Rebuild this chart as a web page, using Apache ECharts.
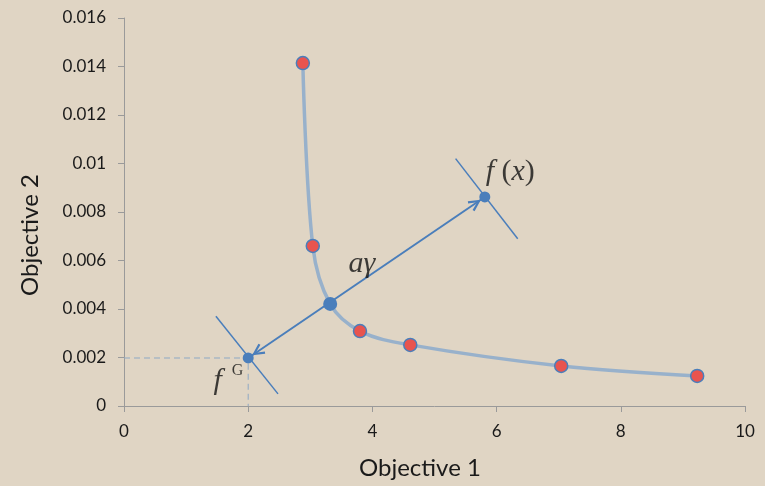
<!DOCTYPE html>
<html><head><meta charset="utf-8">
<script src="https://cdn.jsdelivr.net/npm/echarts@6/dist/echarts.min.js"></script>
<style>html,body{margin:0;padding:0;background:#e0d5c4;}#c{width:765px;height:486px;}</style>
</head><body><div id="c"></div>
<script>
// Pareto front points (red)
const frontX = [2.88, 3.04, 3.80, 4.61, 7.04, 9.23];
const frontY = [0.01414, 0.0066, 0.00309, 0.00252, 0.00165, 0.00124];
// curve through the front (includes the intersection point)
const curveX = [2.88, 3.04, 3.32, 3.80, 4.61, 7.04, 9.23];
const curveY = [0.01414, 0.0066, 0.00421, 0.00309, 0.00252, 0.00165, 0.00124];
// special points: intersection, f(x), f^G
const specialX = [3.32, 5.81, 2.0];
const specialY = [0.00421, 0.00862, 0.00198];
// crossing segments at f(x) and f^G
const crossFx = [[5.34, 0.0102], [6.34, 0.0069]];
const crossFG = [[1.48, 0.00370], [2.48, 0.00050]];
// text annotations: f(x), aγ, f, G
const noteText = ['f(x)', 'aγ', 'f', 'G'];
const noteX = [6.22, 3.83, 1.51, 1.83];
const noteY = [0.00965, 0.00586, 0.00103, 0.00146];
const xTicks = [0, 2, 4, 6, 8, 10];
const yTicks = [0, 0.002, 0.004, 0.006, 0.008, 0.01, 0.012, 0.014, 0.016];

const blue = '#4a7ebb';
// open chevron, tip a little short of the symbol centre (invisible anchor extends the box)
const chev = 'path://M0,10 L5,0 L10,10 L8.3,10.9 L5,3.8 L1.7,10.9 Z M5,-19 L5.01,-19 L5,-18.99 Z';
const chevSize = [12, 35];
const serif = 'Liberation Serif';
const sans = 'Lato';

const chart = echarts.init(document.getElementById('c'));
chart.setOption({
  backgroundColor: '#e0d5c4',
  animation: false,
  grid: {left: 124, right: 20, top: 18, bottom: 80},
  graphic: [
    {type: 'text', left: 359, top: 456, style: {text: 'Objective 1', font: '24px Lato', fill: '#1a1a1a'}},
    {type: 'text', x: 18, y: 296, rotation: Math.PI / 2,
      style: {text: 'Objective 2', font: '24px Lato', fill: '#1a1a1a'}}
  ],
  xAxis: {
    type: 'value', min: xTicks[0], max: xTicks[xTicks.length-1], interval: 2,
    axisLine: {lineStyle: {color: '#9a9a9a', width: 1}},
    axisTick: {show: true, length: 6, lineStyle: {color: '#9a9a9a'}},
    axisLabel: {fontFamily: sans, fontSize: 17, color: '#1a1a1a', margin: 17},
    splitLine: {show: false}
  },
  yAxis: {
    type: 'value', min: yTicks[0], max: yTicks[yTicks.length-1], interval: 0.002,
    axisLine: {show: true, lineStyle: {color: '#9a9a9a', width: 1}},
    axisTick: {show: true, length: 6, lineStyle: {color: '#9a9a9a'}},
    axisLabel: {fontFamily: sans, fontSize: 17, color: '#1a1a1a', margin: 18,
      formatter: v => String(+v.toFixed(3))},
    splitLine: {show: false}
  },
  series: [
    {type: 'line', data: [[0, specialY[2]], [specialX[2], specialY[2]], [specialX[2], 0]],
      symbol: 'none', lineStyle: {color: '#8fa9c4', width: 1, type: [6, 4]}, z: 1},
    {type: 'line', data: curveX.map((x, i) => [x, curveY[i]]), smooth: 0.35,
      symbol: 'none', lineStyle: {color: '#98b1cb', width: 3.5}, z: 2},
    {type: 'lines', coordinateSystem: 'cartesian2d', polyline: false,
      data: [{coords: crossFx}, {coords: crossFG}],
      symbol: 'none', lineStyle: {color: blue, width: 1.5, opacity: 1}, z: 3},
    {type: 'lines', coordinateSystem: 'cartesian2d',
      data: [{coords: [[specialX[2], specialY[2]], [specialX[1], specialY[1]]]}],
      symbol: [chev, chev], symbolSize: [chevSize, chevSize],
      lineStyle: {color: blue, width: 2, opacity: 1}, z: 4},
    {type: 'scatter', data: frontX.map((x, i) => [x, frontY[i]]), symbolSize: 13,
      itemStyle: {color: '#e8544f', borderColor: blue, borderWidth: 1.5, opacity: 1}, z: 5},
    {type: 'scatter', data: specialX.map((x, i) => [x, specialY[i]]),
      symbolSize: (v, p) => p.dataIndex === 0 ? 14 : 11,
      itemStyle: {color: blue, opacity: 1}, z: 6},
    {type: 'scatter', symbolSize: 0, silent: true, z: 7,
      data: [
        {value: [noteX[0], noteY[0]], label: {formatter: '{i|f}{u| (}{i|x}{u|)}'}},
        {value: [noteX[1], noteY[1]], label: {formatter: '{i|' + noteText[1] + '}'}},
        {value: [noteX[2], noteY[2]], label: {formatter: '{i|' + noteText[2] + '}'}},
        {value: [noteX[3], noteY[3]], label: {formatter: '{s|' + noteText[3] + '}'}}
      ],
      label: {show: true, position: 'inside', color: '#111',
        rich: {
          i: {fontFamily: serif, fontStyle: 'italic', fontSize: 30, color: '#111'},
          u: {fontFamily: serif, fontSize: 30, color: '#111'},
          s: {fontFamily: serif, fontSize: 16, color: '#111'}
        }}
    }
  ]
});
</script></body></html>
